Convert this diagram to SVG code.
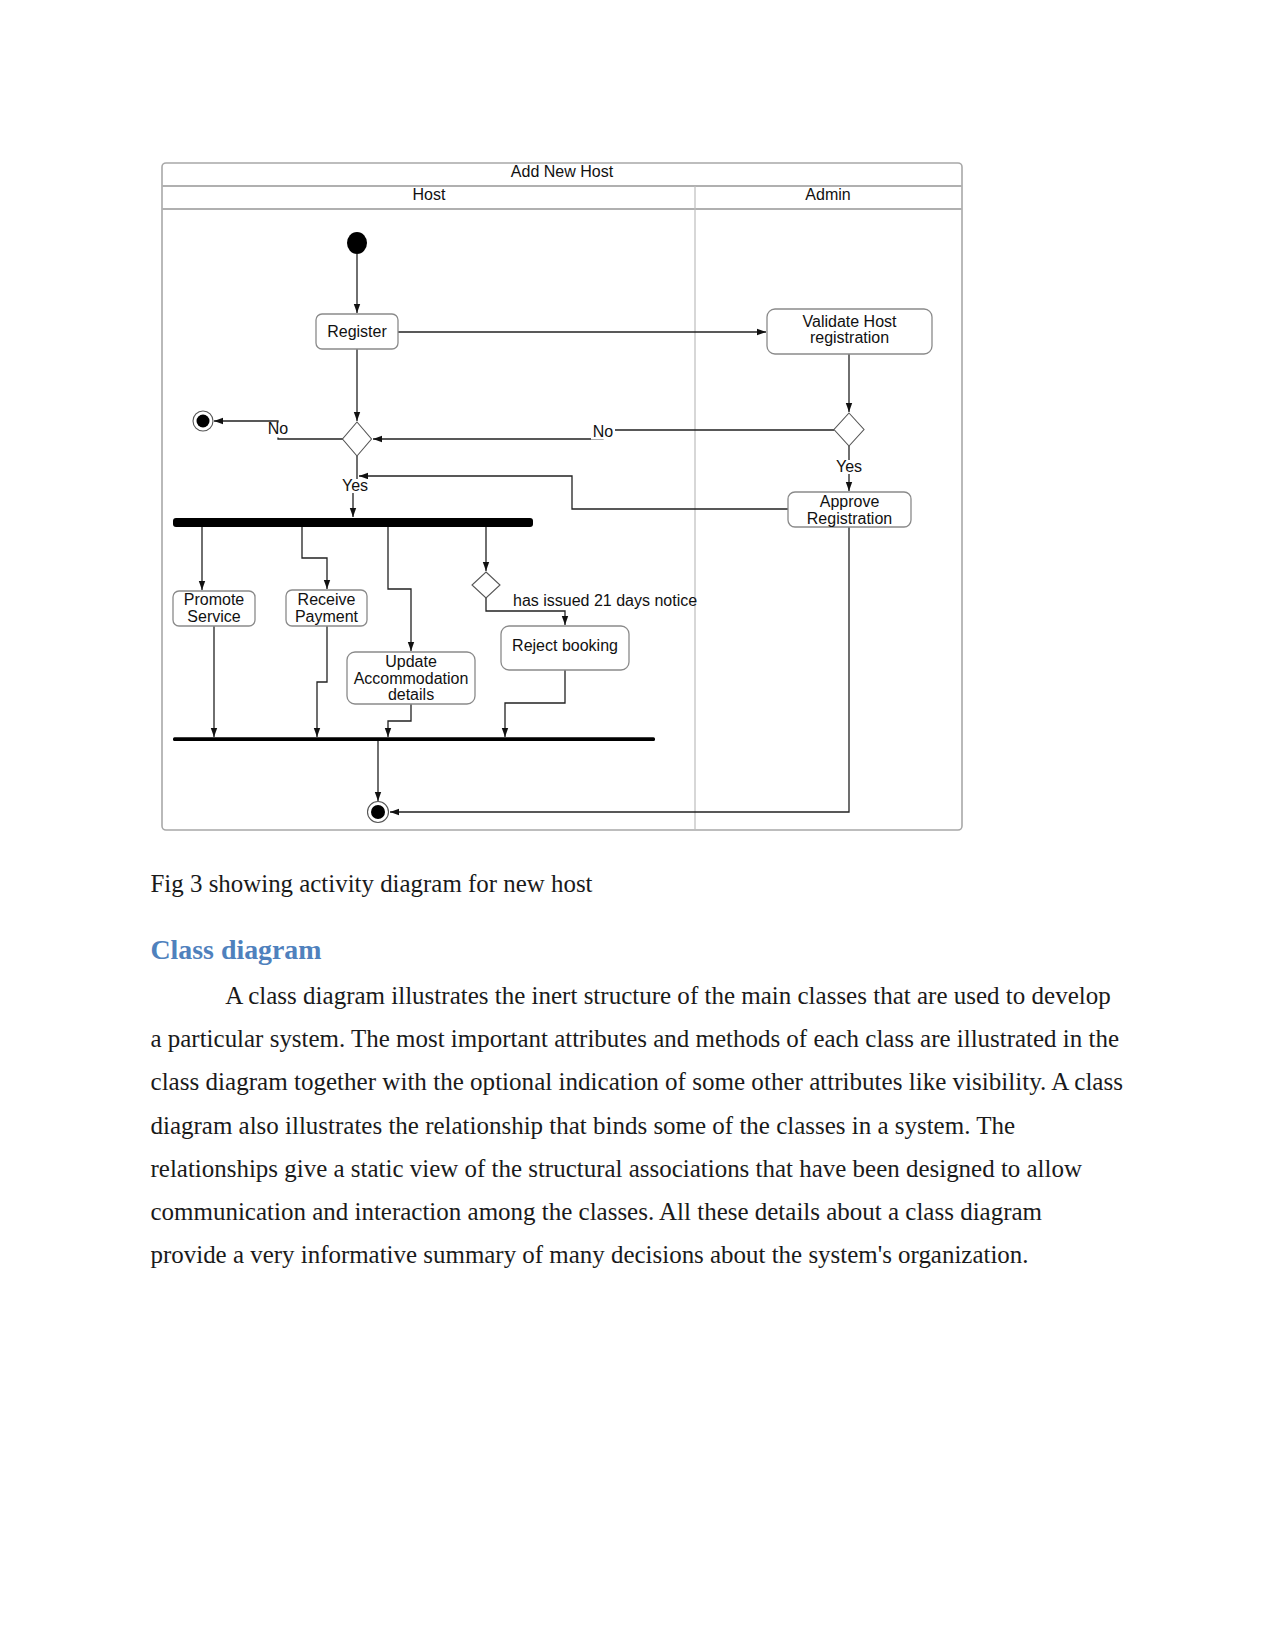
<svg xmlns="http://www.w3.org/2000/svg" width="1275" height="1651" viewBox="0 0 1275 1651">
<defs>
<marker id="arr" markerWidth="10" markerHeight="8" refX="9" refY="4" orient="auto" markerUnits="userSpaceOnUse">
<path d="M0,0.8 L9,4 L0,7.2 Z" fill="#111"/>
</marker>
<style>
.lbl{font-family:"Liberation Sans",Arial,sans-serif;font-size:16px;fill:#111;text-anchor:middle}
.lbll{font-family:"Liberation Sans",Arial,sans-serif;font-size:16px;fill:#111}
.box{fill:#fff;stroke:#8a8a8a;stroke-width:1.3}
.dia{fill:#fff;stroke:#555;stroke-width:1.1}
.con{fill:none;stroke:#222;stroke-width:1.3}
.arr{marker-end:url(#arr)}
.frame{fill:#fff;stroke:#a8a8a8;stroke-width:1.6}
.div{stroke:#bdbdbd;stroke-width:1.2}
.hdr{stroke:#b0b0b0;stroke-width:2}
.body{font-family:"Liberation Serif","Times New Roman",serif;font-size:24.5px;fill:#1a1a1a}
.head{font-family:"Liberation Serif","Times New Roman",serif;font-size:28px;font-weight:bold;fill:#4f81bd}
</style>
</defs>
<rect width="1275" height="1651" fill="#fff"/>

<g id="swimlane">
<rect class="frame" x="162" y="163" width="800" height="667" rx="4"/>
<line class="hdr" x1="162" y1="186" x2="962" y2="186"/>
<line class="hdr" x1="162" y1="209" x2="962" y2="209"/>
<line class="div" x1="695" y1="186" x2="695" y2="830"/>
<text class="lbl" x="562" y="177">Add New Host</text>
<text class="lbl" x="429" y="200">Host</text>
<text class="lbl" x="828" y="200">Admin</text>
</g>

<g id="connectors">
<path class="con arr" d="M357,254 L357,313"/>
<path class="con arr" d="M398,332 L766,332"/>
<path class="con arr" d="M357,349 L357,421"/>
<path class="con arr" d="M343,439 L278,439 L278,421 L214,421"/>
<path class="con arr" d="M834,430 L603,430 L603,439 L373,439"/>
<path class="con arr" d="M357,456 L357,486 L353,486 L353,517"/>
<path class="con arr" d="M788,509 L572,509 L572,476 L359,476"/>
<path class="con arr" d="M849,354 L849,412"/>
<path class="con arr" d="M849,446 L849,491"/>
<path class="con arr" d="M849,527 L849,812 L390,812"/>
<path class="con arr" d="M202,527 L202,590"/>
<path class="con arr" d="M302,527 L302,558 L327,558 L327,589"/>
<path class="con arr" d="M388,527 L388,589 L411,589 L411,651"/>
<path class="con arr" d="M486,527 L486,571"/>
<path class="con arr" d="M486,598 L486,611 L565,611 L565,625"/>
<path class="con arr" d="M214,626 L214,737"/>
<path class="con arr" d="M327,626 L327,682 L317,682 L317,737"/>
<path class="con arr" d="M411,704 L411,721 L388,721 L388,737"/>
<path class="con arr" d="M565,670 L565,703 L505,703 L505,737"/>
<path class="con arr" d="M378,741 L378,801"/>
<rect x="266" y="422.5" width="24" height="15" fill="#fff"/>
<text class="lbl" x="278" y="433.5">No</text>
<rect x="591" y="424.5" width="24" height="15" fill="#fff"/>
<text class="lbl" x="603" y="436.5">No</text>
<rect x="340" y="479" width="30" height="14" fill="#fff"/>
<text class="lbl" x="355" y="491">Yes</text>
<rect x="834" y="460" width="30" height="14" fill="#fff"/>
<text class="lbl" x="849" y="472">Yes</text>
<text class="lbll" x="513" y="606">has issued 21 days notice</text>
</g>

<g id="start"><ellipse cx="357" cy="243" rx="10" ry="11" fill="#000"/></g>
<g id="end-no"><circle cx="203" cy="421" r="10" fill="#fff" stroke="#555" stroke-width="1.1"/><circle cx="203" cy="421" r="6.5" fill="#000"/></g>
<g id="final"><circle cx="378" cy="812" r="10.5" fill="#fff" stroke="#555" stroke-width="1.1"/><circle cx="378" cy="812" r="7" fill="#000"/></g>

<g id="register"><rect class="box" x="316" y="314" width="82" height="35" rx="6"/><text class="lbl" x="357" y="337">Register</text></g>
<g id="validate"><rect class="box" x="767" y="309" width="165" height="45" rx="8"/><text class="lbl" x="849.5" y="327">Validate Host</text><text class="lbl" x="849.5" y="343">registration</text></g>
<g id="decision-host"><polygon class="dia" points="357,422 371.5,439 357,456 342.5,439"/></g>
<g id="decision-admin"><polygon class="dia" points="849,413 864,429.5 849,446 834,429.5"/></g>
<g id="approve"><rect class="box" x="788" y="492" width="123" height="35" rx="7"/><text class="lbl" x="849.5" y="507">Approve</text><text class="lbl" x="849.5" y="523.5">Registration</text></g>
<g id="fork"><rect x="173" y="518" width="360" height="9" rx="3" fill="#000"/></g>
<g id="join"><rect x="173" y="737.2" width="482" height="3.8" rx="1.5" fill="#000"/></g>
<g id="promote"><rect class="box" x="173" y="591" width="82" height="35" rx="6"/><text class="lbl" x="214" y="605">Promote</text><text class="lbl" x="214" y="621.5">Service</text></g>
<g id="receive"><rect class="box" x="286" y="590" width="81" height="36" rx="6"/><text class="lbl" x="326.5" y="605">Receive</text><text class="lbl" x="326.5" y="621.5">Payment</text></g>
<g id="update"><rect class="box" x="347" y="652" width="128" height="52" rx="8"/><text class="lbl" x="411" y="667">Update</text><text class="lbl" x="411" y="683.5">Accommodation</text><text class="lbl" x="411" y="700">details</text></g>
<g id="decision-notice"><polygon class="dia" points="486,572 500,585 486,598 472,585"/></g>
<g id="reject"><rect class="box" x="501" y="626" width="128" height="44" rx="8"/><text class="lbl" x="565" y="651">Reject booking</text></g>

<g id="document-text">
<text class="body" x="150.5" y="892" textLength="442" lengthAdjust="spacingAndGlyphs">Fig 3 showing activity diagram for new host</text>
<text class="head" x="150.5" y="959" textLength="171" lengthAdjust="spacingAndGlyphs">Class diagram</text>
<text class="body" x="225.3" y="1004" textLength="885.4" lengthAdjust="spacingAndGlyphs">A class diagram illustrates the inert structure of the main classes that are used to develop</text>
<text class="body" x="150.5" y="1047.2" textLength="968.5" lengthAdjust="spacingAndGlyphs">a particular system. The most important attributes and methods of each class are illustrated in the</text>
<text class="body" x="150.5" y="1090.4" textLength="972.5" lengthAdjust="spacingAndGlyphs">class diagram together with the optional indication of some other attributes like visibility. A class</text>
<text class="body" x="150.5" y="1133.6" textLength="864.5" lengthAdjust="spacingAndGlyphs">diagram also illustrates the relationship that binds some of the classes in a system. The</text>
<text class="body" x="150.5" y="1176.8" textLength="931.5" lengthAdjust="spacingAndGlyphs">relationships give a static view of the structural associations that have been designed to allow</text>
<text class="body" x="150.5" y="1220" textLength="891.5" lengthAdjust="spacingAndGlyphs">communication and interaction among the classes. All these details about a class diagram</text>
<text class="body" x="150.5" y="1263.2" textLength="878" lengthAdjust="spacingAndGlyphs">provide a very informative summary of many decisions about the system's organization.</text>
</g>
</svg>
